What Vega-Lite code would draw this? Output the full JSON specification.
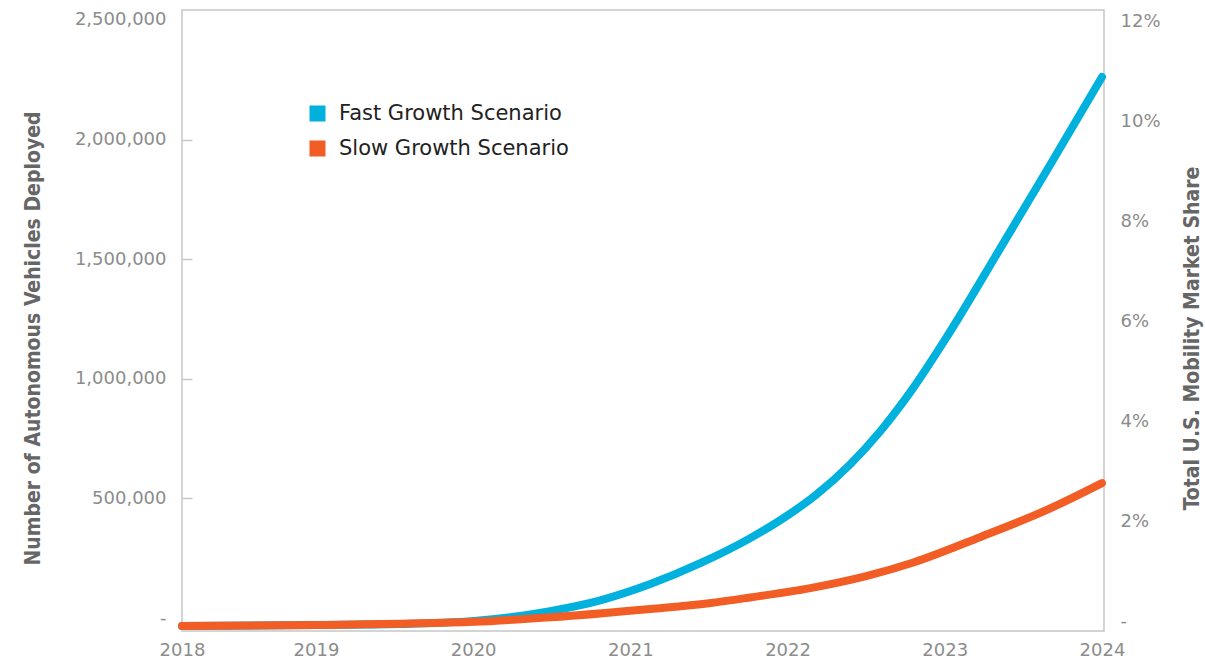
{
  "$schema": "https://vega.github.io/schema/vega-lite/v6.json",
  "width": 922,
  "height": 621,
  "autosize": {"type": "none"},
  "padding": {"left": 182, "top": 10, "right": 101, "bottom": 33},
  "background": "white",
  "config": {
    "view": {"stroke": "#c6c6c6", "strokeWidth": 1.5},
    "font": "DejaVu Sans"
  },
  "datasets": {
    "lines": [
      {"year": 2018.148, "scenario": "Fast Growth Scenario", "vehicles": -33000},
      {"year": 2019.0, "scenario": "Fast Growth Scenario", "vehicles": -29000},
      {"year": 2019.535, "scenario": "Fast Growth Scenario", "vehicles": -25000},
      {"year": 2020.007, "scenario": "Fast Growth Scenario", "vehicles": -12000},
      {"year": 2020.49, "scenario": "Fast Growth Scenario", "vehicles": 29000},
      {"year": 2020.809, "scenario": "Fast Growth Scenario", "vehicles": 74000},
      {"year": 2021.127, "scenario": "Fast Growth Scenario", "vehicles": 142000},
      {"year": 2021.445, "scenario": "Fast Growth Scenario", "vehicles": 229000},
      {"year": 2021.763, "scenario": "Fast Growth Scenario", "vehicles": 334000},
      {"year": 2022.005, "scenario": "Fast Growth Scenario", "vehicles": 431000},
      {"year": 2022.183, "scenario": "Fast Growth Scenario", "vehicles": 516000},
      {"year": 2022.399, "scenario": "Fast Growth Scenario", "vehicles": 643000},
      {"year": 2022.59, "scenario": "Fast Growth Scenario", "vehicles": 781000},
      {"year": 2022.8, "scenario": "Fast Growth Scenario", "vehicles": 962000},
      {"year": 2023.014, "scenario": "Fast Growth Scenario", "vehicles": 1176000},
      {"year": 2023.351, "scenario": "Fast Growth Scenario", "vehicles": 1543000},
      {"year": 2023.669, "scenario": "Fast Growth Scenario", "vehicles": 1893000},
      {"year": 2024.0, "scenario": "Fast Growth Scenario", "vehicles": 2262000},
      {"year": 2018.148, "scenario": "Slow Growth Scenario", "vehicles": -33000},
      {"year": 2019.0, "scenario": "Slow Growth Scenario", "vehicles": -29000},
      {"year": 2020.007, "scenario": "Slow Growth Scenario", "vehicles": -16000},
      {"year": 2020.49, "scenario": "Slow Growth Scenario", "vehicles": 3000},
      {"year": 2021.127, "scenario": "Slow Growth Scenario", "vehicles": 38000},
      {"year": 2021.5, "scenario": "Slow Growth Scenario", "vehicles": 62000},
      {"year": 2021.763, "scenario": "Slow Growth Scenario", "vehicles": 86000},
      {"year": 2022.145, "scenario": "Slow Growth Scenario", "vehicles": 125000},
      {"year": 2022.5, "scenario": "Slow Growth Scenario", "vehicles": 175000},
      {"year": 2022.8, "scenario": "Slow Growth Scenario", "vehicles": 232000},
      {"year": 2023.224, "scenario": "Slow Growth Scenario", "vehicles": 338000},
      {"year": 2023.65, "scenario": "Slow Growth Scenario", "vehicles": 452000},
      {"year": 2024.0, "scenario": "Slow Growth Scenario", "vehicles": 564000}
    ],
    "share": [
      {"year": 2018.148, "share": 0},
      {"year": 2024.0, "share": 12}
    ]
  },
  "layer": [
    {
      "data": {"name": "lines"},
      "mark": {"type": "line", "strokeWidth": 8, "strokeCap": "round", "strokeJoin": "round", "interpolate": "monotone", "clip": false},
      "encoding": {
        "x": {
          "field": "year", "type": "quantitative",
          "scale": {"domain": [2018.148, 2024.013], "nice": false, "zero": false},
          "axis": {
            "values": [2018.148, 2019, 2020, 2021, 2022, 2023, 2024],
            "labelExpr": "floor(datum.value)",
            "title": null, "domain": false, "ticks": false, "grid": false,
            "labelFontSize": 18, "labelColor": "#8c8c8c", "labelPadding": 10,
            "labelFont": "DejaVu Sans", "labelFlush": false
          }
        },
        "y": {
          "field": "vehicles", "type": "quantitative",
          "scale": {"domain": [-54300, 2541800], "nice": false, "zero": false},
          "axis": {
            "values": [0, 500000, 1000000, 1500000, 2000000, 2500000],
            "labelExpr": "datum.value == 0 ? '-' : format(datum.value, ',')",
            "title": "Number of Autonomous Vehicles Deployed",
            "titleFontSize": 21, "titleColor": "#666666", "titleFontWeight": "bold",
            "titleFont": "DejaVu Sans Condensed, Open Sans Condensed, Roboto", "titlePadding": 31,
            "titleLimit": 700, "titleY": 328,
            "domain": false, "grid": false,
            "tickSize": -10, "tickColor": "#c6c6c6", "tickWidth": 1.5,
            "tickOpacity": {"expr": "(datum.value >= 2500000 || datum.value == 0) ? 0 : 1"},
            "labelFontSize": 18, "labelColor": "#8c8c8c", "labelPadding": 26,
            "labelFont": "DejaVu Sans", "labelFlush": false
          }
        },
        "color": {
          "field": "scenario", "type": "nominal",
          "scale": {"domain": ["Fast Growth Scenario", "Slow Growth Scenario"], "range": ["#00B1DE", "#F15D24"]},
          "legend": {
            "orient": "none", "legendX": 125, "legendY": 93,
            "title": null, "symbolType": "square", "symbolSize": 256,
            "symbolStrokeWidth": 0, "symbolOpacity": 1,
            "labelFontSize": 21, "labelColor": "#222222", "labelFont": "DejaVu Sans",
            "labelLimit": 500,
            "rowPadding": 13, "labelOffset": 11, "padding": 0,
            "encode": {"symbols": {"update": {"fill": {"scale": "color", "field": "value"}, "strokeWidth": {"value": 0}}}}
          }
        }
      }
    },
    {
      "data": {"name": "share"},
      "mark": {"type": "point", "opacity": 0},
      "encoding": {
        "x": {"field": "year", "type": "quantitative"},
        "y": {
          "field": "share", "type": "quantitative",
          "scale": {"domain": [-0.2, 12.24], "nice": false, "zero": false},
          "axis": {
            "orient": "right",
            "values": [0, 2, 4, 6, 8, 10, 12],
            "labelExpr": "datum.value == 0 ? '-' : format(datum.value, 'd') + '%'",
            "title": "Total U.S. Mobility Market Share",
            "titleFontSize": 21, "titleColor": "#666666", "titleFontWeight": "bold",
            "titleFont": "DejaVu Sans Condensed, Open Sans Condensed, Roboto", "titlePadding": 42,
            "titleLimit": 700, "titleAngle": 270, "titleBaseline": "bottom", "titleY": 328,
            "domain": false, "grid": false, "ticks": false,
            "labelFontSize": 18, "labelColor": "#8c8c8c", "labelPadding": 16,
            "labelFont": "DejaVu Sans", "labelFlush": false
          }
        }
      }
    }
  ],
  "resolve": {"scale": {"y": "independent"}}
}
